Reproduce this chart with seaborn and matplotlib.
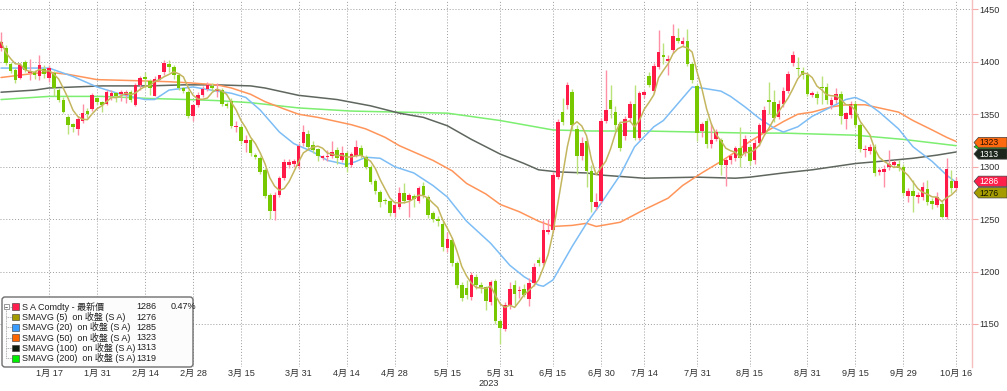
import numpy as np
import pandas as pd
import seaborn as sns
import matplotlib.pyplot as plt
from matplotlib.patches import FancyBboxPatch, Polygon, Rectangle

# ---- daily candles (index = trading day) ----
opens = [1413, 1413, 1398, 1392, 1385, 1400, 1389, 1390, 1386, 1393,
         1385, 1389, 1373, 1364, 1347, 1341, 1336, 1344, 1353, 1355,
         1365, 1362, 1360, 1367, 1370, 1369, 1368, 1371, 1359, 1378,
         1385, 1382, 1367, 1383, 1390, 1398, 1395, 1387, 1375, 1371,
         1348, 1359, 1368, 1374, 1377, 1372, 1373, 1360, 1363, 1338,
         1338, 1323, 1325, 1311, 1308, 1297, 1273, 1258, 1273, 1289,
         1302, 1303, 1301, 1323, 1331, 1321, 1317, 1308, 1309, 1310,
         1316, 1306, 1313, 1302, 1310, 1318, 1309, 1300, 1286, 1276,
         1268, 1267, 1256, 1262, 1275, 1268, 1272, 1267, 1282, 1271,
         1256, 1250, 1245, 1222, 1230, 1208, 1187, 1184, 1176, 1195,
         1187, 1185, 1171, 1191, 1153, 1145, 1168, 1187, 1181, 1183,
         1174, 1189, 1211, 1208, 1238, 1240, 1290, 1352, 1359, 1371,
         1336, 1310, 1324, 1296, 1262, 1267, 1344, 1364, 1352, 1341,
         1329, 1346, 1360, 1327, 1368, 1386, 1372, 1395, 1406, 1401,
         1411, 1423, 1417, 1420, 1398, 1377, 1334, 1344, 1322, 1326,
         1325, 1302, 1306, 1308, 1318, 1313, 1319, 1306, 1323, 1332,
         1364, 1362, 1347, 1360, 1372, 1399, 1394, 1391, 1387, 1368,
         1369, 1376, 1376, 1359, 1364, 1369, 1345, 1349, 1360, 1340,
         1316, 1315, 1319, 1295, 1295, 1300, 1302, 1303, 1300, 1272,
         1277, 1271, 1271, 1279, 1267, 1263, 1264, 1252, 1286, 1280]
highs = [1428, 1416, 1400, 1394, 1399, 1402, 1403, 1392, 1406, 1397,
         1397, 1391, 1375, 1366, 1349, 1342, 1348, 1360, 1356, 1370,
         1366, 1363, 1373, 1373, 1371, 1373, 1373, 1373, 1380, 1386,
         1390, 1384, 1386, 1387, 1402, 1402, 1397, 1389, 1376, 1373,
         1360, 1371, 1377, 1381, 1380, 1380, 1375, 1362, 1365, 1344,
         1340, 1330, 1327, 1313, 1310, 1299, 1275, 1276, 1291, 1307,
         1307, 1307, 1323, 1340, 1335, 1324, 1318, 1311, 1316, 1324,
         1319, 1320, 1315, 1314, 1325, 1321, 1311, 1302, 1288, 1278,
         1270, 1268, 1265, 1281, 1284, 1275, 1274, 1282, 1285, 1273,
         1258, 1253, 1248, 1238, 1232, 1210, 1190, 1192, 1200, 1198,
         1190, 1186, 1192, 1193, 1155, 1171, 1190, 1192, 1186, 1188,
         1194, 1208, 1214, 1249, 1250, 1295, 1345, 1365, 1381, 1374,
         1340, 1328, 1327, 1302, 1275, 1346, 1392, 1378, 1358, 1343,
         1348, 1363, 1378, 1372, 1373, 1390, 1399, 1430, 1418, 1406,
         1436, 1432, 1424, 1431, 1400, 1379, 1343, 1346, 1342, 1336,
         1327, 1308, 1312, 1320, 1338, 1330, 1322, 1326, 1342, 1358,
         1381, 1373, 1364, 1376, 1391, 1410, 1405, 1395, 1390, 1372,
         1372, 1386, 1380, 1366, 1375, 1372, 1352, 1363, 1363, 1342,
         1321, 1322, 1322, 1299, 1302, 1316, 1306, 1306, 1303, 1280,
         1287, 1276, 1285, 1287, 1270, 1276, 1268, 1308, 1297, 1290]
lows = [1410, 1397, 1389, 1380, 1384, 1390, 1383, 1384, 1383, 1385,
        1381, 1367, 1362, 1351, 1331, 1333, 1330, 1342, 1346, 1353,
        1359, 1352, 1359, 1364, 1362, 1363, 1361, 1362, 1358, 1373,
        1375, 1368, 1367, 1382, 1387, 1390, 1384, 1373, 1370, 1346,
        1344, 1357, 1366, 1372, 1372, 1366, 1358, 1356, 1337, 1333,
        1322, 1314, 1310, 1307, 1293, 1270, 1250, 1249, 1271, 1287,
        1299, 1300, 1298, 1320, 1316, 1313, 1305, 1306, 1305, 1308,
        1303, 1304, 1295, 1300, 1309, 1308, 1298, 1283, 1274, 1262,
        1264, 1253, 1252, 1260, 1265, 1252, 1262, 1265, 1270, 1251,
        1247, 1243, 1220, 1219, 1205, 1184, 1172, 1174, 1173, 1183,
        1180, 1163, 1168, 1150, 1131, 1143, 1164, 1168, 1175, 1176,
        1167, 1186, 1205, 1206, 1236, 1238, 1288, 1340, 1355, 1335,
        1293, 1306, 1281, 1257, 1259, 1265, 1342, 1346, 1335, 1315,
        1325, 1343, 1325, 1325, 1365, 1376, 1370, 1393, 1398, 1387,
        1408, 1418, 1415, 1396, 1380, 1324, 1328, 1318, 1318, 1324,
        1292, 1282, 1303, 1305, 1300, 1310, 1302, 1303, 1320, 1330,
        1350, 1343, 1345, 1357, 1370, 1396, 1386, 1384, 1367, 1366,
        1360, 1360, 1360, 1355, 1361, 1341, 1336, 1346, 1338, 1314,
        1309, 1312, 1291, 1292, 1281, 1297, 1300, 1296, 1272, 1266,
        1257, 1265, 1268, 1263, 1260, 1262, 1251, 1250, 1275, 1278]
closes = [1419, 1399, 1391, 1383, 1397, 1392, 1391, 1387, 1397, 1388,
          1394, 1375, 1364, 1352, 1340, 1338, 1345, 1351, 1350, 1368,
          1362, 1359, 1371, 1370, 1367, 1371, 1371, 1364, 1378, 1385,
          1384, 1375, 1384, 1387, 1399, 1395, 1387, 1375, 1372, 1348,
          1359, 1368, 1374, 1378, 1375, 1374, 1360, 1358, 1339, 1339,
          1324, 1325, 1313, 1309, 1295, 1272, 1258, 1273, 1289, 1304,
          1304, 1305, 1320, 1333, 1319, 1316, 1310, 1310, 1310, 1314,
          1308, 1313, 1300, 1312, 1319, 1310, 1300, 1285, 1277, 1266,
          1267, 1256, 1263, 1275, 1267, 1273, 1269, 1280, 1273, 1254,
          1250, 1248, 1223, 1231, 1208, 1187, 1175, 1178, 1197, 1187,
          1185, 1172, 1190, 1153, 1146, 1168, 1183, 1179, 1182, 1178,
          1189, 1204, 1208, 1240, 1240, 1292, 1343, 1343, 1378, 1340,
          1310, 1323, 1296, 1266, 1266, 1344, 1354, 1355, 1340, 1318,
          1345, 1360, 1327, 1370, 1371, 1378, 1396, 1409, 1405, 1403,
          1425, 1420, 1420, 1398, 1383, 1332, 1341, 1322, 1325, 1333,
          1302, 1306, 1310, 1318, 1308, 1326, 1305, 1323, 1340, 1354,
          1362, 1346, 1360, 1372, 1388, 1406, 1393, 1387, 1369, 1370,
          1365, 1375, 1364, 1364, 1369, 1348, 1351, 1360, 1340, 1317,
          1317, 1319, 1294, 1297, 1298, 1303, 1304, 1299, 1275, 1277,
          1272, 1273, 1281, 1266, 1264, 1271, 1252, 1298, 1280, 1286]

# moving averages at some trading days
sma20_day = [0, 5, 10, 15, 20, 25, 30, 32, 35, 40, 45, 48, 51, 54, 58, 61, 65, 68,
             72, 74, 76, 79, 82, 86, 90, 93, 97, 102, 106, 109, 112, 113, 115, 119,
             122, 125, 129, 132, 136, 138, 141, 144, 146, 150, 152, 155, 158, 161,
             163, 166, 169, 173, 176, 178, 180, 183, 187, 190, 194, 197, 199]
sma20 = [1394, 1394, 1394, 1386, 1376, 1369, 1364, 1364, 1373, 1376, 1372, 1370,
         1366, 1354, 1333, 1322, 1314, 1306, 1302, 1305, 1309, 1308, 1300, 1294,
         1282, 1271, 1248, 1227, 1206, 1195, 1187, 1186, 1192, 1224, 1246, 1265,
         1292, 1319, 1338, 1344, 1360, 1376, 1375, 1372, 1367, 1357, 1346, 1337,
         1333, 1338, 1348, 1357, 1364, 1366, 1362, 1352, 1336, 1319, 1305, 1292, 1285]
sma50_day = [0, 7, 10, 14, 20, 28, 35, 39, 45, 48, 52, 55, 59, 62, 66, 69, 73, 76,
             80, 83, 87, 90, 94, 97, 101, 104, 108, 112, 115, 119, 122, 124, 129,
             134, 139, 142, 146, 150, 153, 156, 160, 163, 166, 169, 173, 176, 180,
             183, 187, 190, 194, 197, 199]
sma50 = [1385, 1389, 1390, 1388, 1383, 1382, 1381, 1380, 1378, 1375, 1369, 1362,
         1355, 1350, 1347, 1344, 1340, 1336, 1328, 1320, 1312, 1306, 1296, 1284,
         1274, 1264, 1257, 1248, 1243, 1244, 1246, 1243, 1247, 1259, 1270, 1282,
         1294, 1305, 1314, 1324, 1335, 1343, 1350, 1352, 1357, 1359, 1359, 1356,
         1352, 1344, 1335, 1328, 1324]
sma100_day = [0, 7, 10, 21, 31, 38, 45, 52, 55, 62, 70, 77, 83, 88, 93, 98, 104,
              109, 112, 116, 122, 125, 134, 145, 153, 156, 163, 169, 178, 183, 190,
              195, 199]
sma100 = [1371, 1373, 1375, 1377, 1377, 1378, 1378, 1377, 1375, 1368, 1364, 1358,
          1351, 1347, 1339, 1326, 1312, 1303, 1297, 1295, 1294, 1292, 1289, 1290,
          1289, 1290, 1294, 1297, 1303, 1305, 1308, 1311, 1314]
sma200_day = [0, 10, 21, 31, 39, 45, 52, 62, 73, 83, 93, 104, 115, 123, 134, 145,
              156, 163, 178, 188, 199]
sma200 = [1364, 1367, 1367, 1365, 1364, 1363, 1361, 1356, 1353, 1352, 1351, 1344,
          1335, 1334, 1334, 1333, 1332, 1332, 1330, 1326, 1320]

tick_day = [10, 20, 30, 40, 50, 62, 72, 82, 93, 104, 115, 125, 134, 145, 156, 168,
            178, 188, 199]
tick_txt = ['1月 17', '1月 31', '2月 14', '2月 28', '3月 15', '3月 31', '4月 14',
            '4月 28', '5月 15', '5月 31', '6月 15', '6月 30', '7月 14', '7月 31',
            '8月 15', '8月 31', '9月 15', '9月 29', '10月 16']

legend_names = ['S A Comdty - 最新價', 'SMAVG (5)  on 收盤 (S A)',
                'SMAVG (20)  on 收盤 (S A)', 'SMAVG (50)  on 收盤 (S A)',
                'SMAVG (100)  on 收盤 (S A)', 'SMAVG (200)  on 收盤 (S A)']
legend_vals = [1286, 1276, 1285, 1323, 1313, 1319]
change_txt = '0.47%'

# colours
RED, RED_W = '#FF1A48', '#FF8FA6'
GRN, GRN_W = '#78C800', '#B9E27A'
C5, C20, C50, C100, C200 = '#C4B65E', '#7DBDF5', '#FF955A', '#5E665E', '#7CEE70'
SW = ['#FF1F4F', '#A39B00', '#3A9CFF', '#FF6600', '#0E1A0E', '#00EE00']

sns.set_theme(style='white')
plt.rcParams['font.family'] = ['Liberation Sans', 'Noto Sans CJK TC', 'DejaVu Sans']

df = pd.DataFrame({'o': opens, 'h': highs, 'l': lows, 'c': closes})
df['day'] = np.arange(len(df))
df['sma5'] = df['c'].rolling(5, min_periods=1).mean()
up = df['c'] >= df['o']

W, H = 1007, 391
fig = plt.figure(figsize=(W / 100, H / 100), dpi=100)
ax = fig.add_axes([0, 1 - 367 / H, 972 / W, 367 / H])

# long averages under the candles
for xs, ys, col in [(sma200_day, sma200, C200), (sma100_day, sma100, C100),
                    (sma50_day, sma50, C50), (sma20_day, sma20, C20)]:
    sns.lineplot(x=xs, y=ys, ax=ax, color=col, lw=1.1, zorder=2)

for mask, body, wick in [(up, RED, RED_W), (~up, GRN, GRN_W)]:
    d = df[mask]
    ax.vlines(d['day'], d['l'], d['h'], color=wick, lw=1, zorder=3)
    ax.bar(d['day'], (d['c'] - d['o']).abs().clip(lower=1.2),
           bottom=d[['o', 'c']].min(axis=1), width=0.74, color=body,
           linewidth=0, zorder=4)

sns.lineplot(data=df, x='day', y='sma5', ax=ax, color=C5, lw=1.1, zorder=5)

YTOP, YBOT = 1458.9, 1109.0
ax.set_xlim(-0.21, 202.3)
ax.set_ylim(YBOT, YTOP)
ax.set_xlabel('')
ax.set_ylabel('')
ax.set_xticks(tick_day)
ax.set_xticklabels(tick_txt, fontsize=6.6, color='#303030')
ax.yaxis.tick_right()
ax.set_yticks(range(1150, 1451, 50))
ax.tick_params(axis='x', length=0, pad=1.5)
ax.tick_params(axis='y', length=4, color='#F4A8A8', width=0.8, pad=1.5,
               labelsize=6.6, labelcolor='#303030')
for s in ['left', 'top', 'bottom']:
    ax.spines[s].set_visible(False)
ax.spines['right'].set_color('#F6BEBE')
ax.spines['right'].set_linewidth(1)
ax.set_axisbelow(True)
ax.grid(True, linestyle=(0, (1, 2)), color='#9C9C9C', lw=0.7)

fig.text(489 / W, 1 - 384 / H, '2023', fontsize=6.6, color='#303030',
         ha='center', va='center')

# overlay in pixel units for legend and price tags
ov = fig.add_axes([0, 0, 1, 1], zorder=10)
ov.set_xlim(0, W)
ov.set_ylim(H, 0)
ov.axis('off')
ov.patch.set_alpha(0)


def py(v):
    return 367 * (YTOP - v) / (YTOP - YBOT)


def tag_shape(y, half=5.2):
    return [(974, y), (978.5, y - half), (1007, y - half), (1007, y + half),
            (978.5, y + half)]


# the 200-day tag sits behind the others: only its tip shows
ov.add_patch(Polygon(tag_shape(py(legend_vals[5]), 3), closed=True, fc='#22DD22',
                     ec='#404040', lw=0.5, zorder=11))

# visible tags, pushed apart so they do not overlap
tags = [(legend_vals[3], '#FF6A10', '#2A1000'), (legend_vals[4], '#1C261C', '#FFFFFF'),
        (legend_vals[0], '#FF1F4B', '#FFFFFF'), (legend_vals[1], '#A49C00', '#151500')]
ys = [py(v) for v, _, _ in tags]
for k in range(1, len(ys)):
    ys[k] = max(ys[k], ys[k - 1] + 11.4)
for (v, fc, tc), y in zip(tags, ys):
    ov.add_patch(Polygon(tag_shape(y), closed=True, fc=fc, ec='#404040', lw=0.5,
                         zorder=12))
    ov.text(979.5, y + 0.3, str(v), fontsize=6.2, color=tc, va='center',
            ha='left', zorder=13)

# legend box
ov.add_patch(FancyBboxPatch((2, 297), 191, 70,
                            boxstyle='round,pad=0,rounding_size=3',
                            fc='#FCFCFC', ec='#6E6E6E', lw=1, zorder=11))
rows = [306.7 + 10.3 * k for k in range(6)]
ov.add_patch(Rectangle((3.5, rows[0] - 2.6), 5, 5, fc='white', ec='#8A8A8A',
                       lw=0.6, zorder=12))
ov.plot([4.7, 7.3], [rows[0] - 0.1, rows[0] - 0.1], color='#555555', lw=0.6, zorder=13)
ov.plot([6, 6], [rows[0] + 2.4, rows[-1]], color='#9A9A9A', lw=0.6, ls=(0, (1, 1)),
        zorder=12)
for k, y in enumerate(rows):
    x0 = 8.5 if k == 0 else 6
    ov.plot([x0, 11.5], [y, y], color='#9A9A9A', lw=0.6, ls=(0, (1, 1)), zorder=12)
    ov.add_patch(Rectangle((11.8, y - 3.4), 6.8, 6.8, fc=SW[k], ec='#333333',
                           lw=0.4, zorder=12))
    ov.text(21.5, y, legend_names[k], fontsize=6.5, color='#1E1E1E', va='center',
            ha='left', zorder=12)
    ov.text(136.5, y, str(legend_vals[k]), fontsize=6.5, color='#1E1E1E',
            va='center', ha='left', zorder=12)
ov.text(170.5, rows[0], change_txt, fontsize=6.5, color='#1E1E1E', va='center',
        ha='left', zorder=12)

fig.savefig('out.png', dpi=100)
